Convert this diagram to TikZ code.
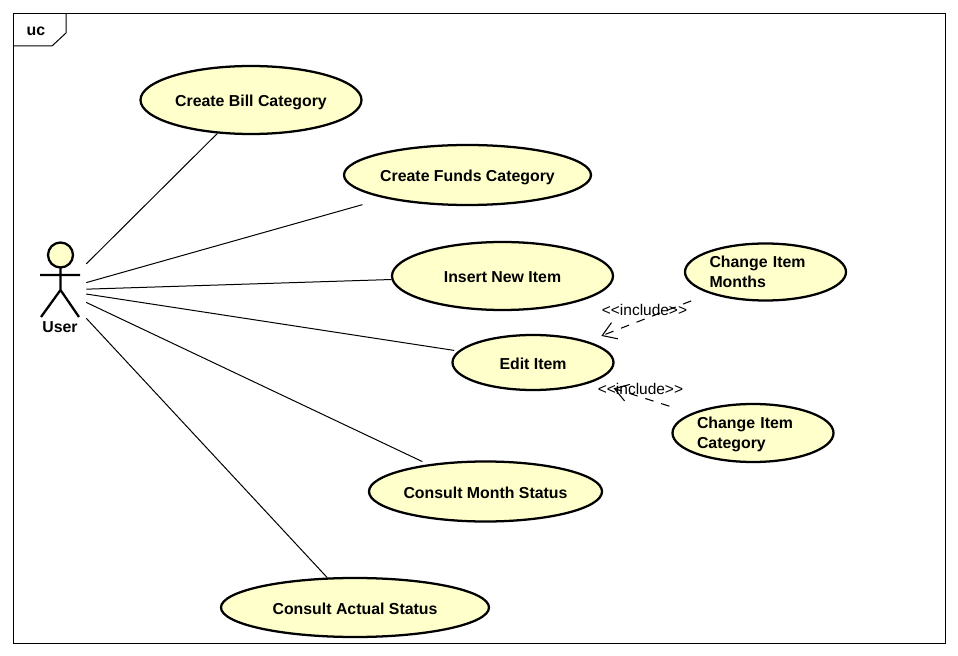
\documentclass[tikz,border=0pt]{standalone}
\usepackage{fontspec}
\setmainfont{Liberation Sans}
\usetikzlibrary{shapes.geometric,arrows.meta}
\definecolor{casefill}{HTML}{FFFFCC}
\tikzset{
  usecase/.style 2 args={ellipse,draw=black,fill=casefill,line width=1.7pt,inner sep=0pt,
    minimum width=#1*0.75pt,minimum height=#2*0.75pt,font=\bfseries\fontsize{11.9}{15}\selectfont},
  oneline/.style={text height=11.3pt,text depth=1pt},
  actorline/.style={black,line width=0.75pt},
  stick/.style={black,line width=1.7pt},
  incl/.style={black,line width=0.8pt,dash pattern=on 6.5pt off 6pt,
    -{Straight Barb[length=10pt,width=13pt,line width=0.8pt]}},
  incllabel/.style={inner sep=0pt,font=\fontsize{11.6}{14}\selectfont}
}
\begin{document}
\begin{tikzpicture}[x=0.75pt,y=-0.75pt]
  \useasboundingbox (0,0) rectangle (958,656);
  % frame
  \draw[line width=0.75pt] (13.5,13.5) rectangle (945.5,643.5);
  \draw[line width=0.75pt] (13.5,46) -- (52,46) -- (66,33) -- (66,13.5);
  \node[inner sep=0pt,font=\bfseries\fontsize{11.9}{14}\selectfont] (frame_uc) at (36,31) {uc};

  % actor
  \node[minimum width=39pt,minimum height=75pt,inner sep=0pt] (user) at (60,290) {};
  \draw[stick,fill=casefill] (60.5,255) circle (12.5);
  \draw[stick] (60.5,267.5) -- (60.5,290) (40,275) -- (80,275)
    (41,317) -- (60.5,290) -- (79,317);
  \node[inner sep=0pt,font=\bfseries\fontsize{11.9}{14}\selectfont] (user_lbl) at (60,327) {User};

  % use cases
  \node[usecase={221}{68},oneline] (bill) at (251,100) {Create Bill Category};
  \node[usecase={247}{60},oneline] (funds) at (467.5,175) {Create Funds Category};
  \node[usecase={221}{68},oneline] (item) at (502.5,276) {Insert New Item};
  \node[usecase={161}{55},oneline] (edit) at (533,362.5) {Edit Item};
  \node[usecase={161}{57},text width=84pt,align=left] (months) at (765.5,272) {Change Item\\Months};
  \node[usecase={161}{58},text width=84pt,align=left,text height=11.5pt] (category) at (753,433) {Change Item\\Category};
  \node[usecase={233}{60},oneline] (month_st) at (485.5,491.5) {Consult Month Status};
  \node[usecase={268}{59},oneline] (actual_st) at (355,607.5) {Consult Actual Status};

  % associations
  \draw[actorline] (user) -- (bill);
  \draw[actorline,shorten >=17.5pt] (user) -- (funds);
  \draw[actorline] (user) -- (item);
  \draw[actorline,shorten >=3pt] (user) -- (edit);
  \draw[actorline,shorten >=4.8pt] (user) -- (month_st);
  \draw[actorline] (user) -- (actual_st);

  % includes
  \draw[incl,shorten <=15pt,shorten >=11pt] (months) -- (edit);
  \draw[incl,shorten <=17.3pt,shorten >=16pt] (category) -- (edit);
  \node[incllabel] (incl_a) at (644.5,310) {{<}{<}include{>}{>}};
  \node[incllabel] (incl_b) at (640.5,389) {{<}{<}include{>}{>}};
\end{tikzpicture}
\end{document}
